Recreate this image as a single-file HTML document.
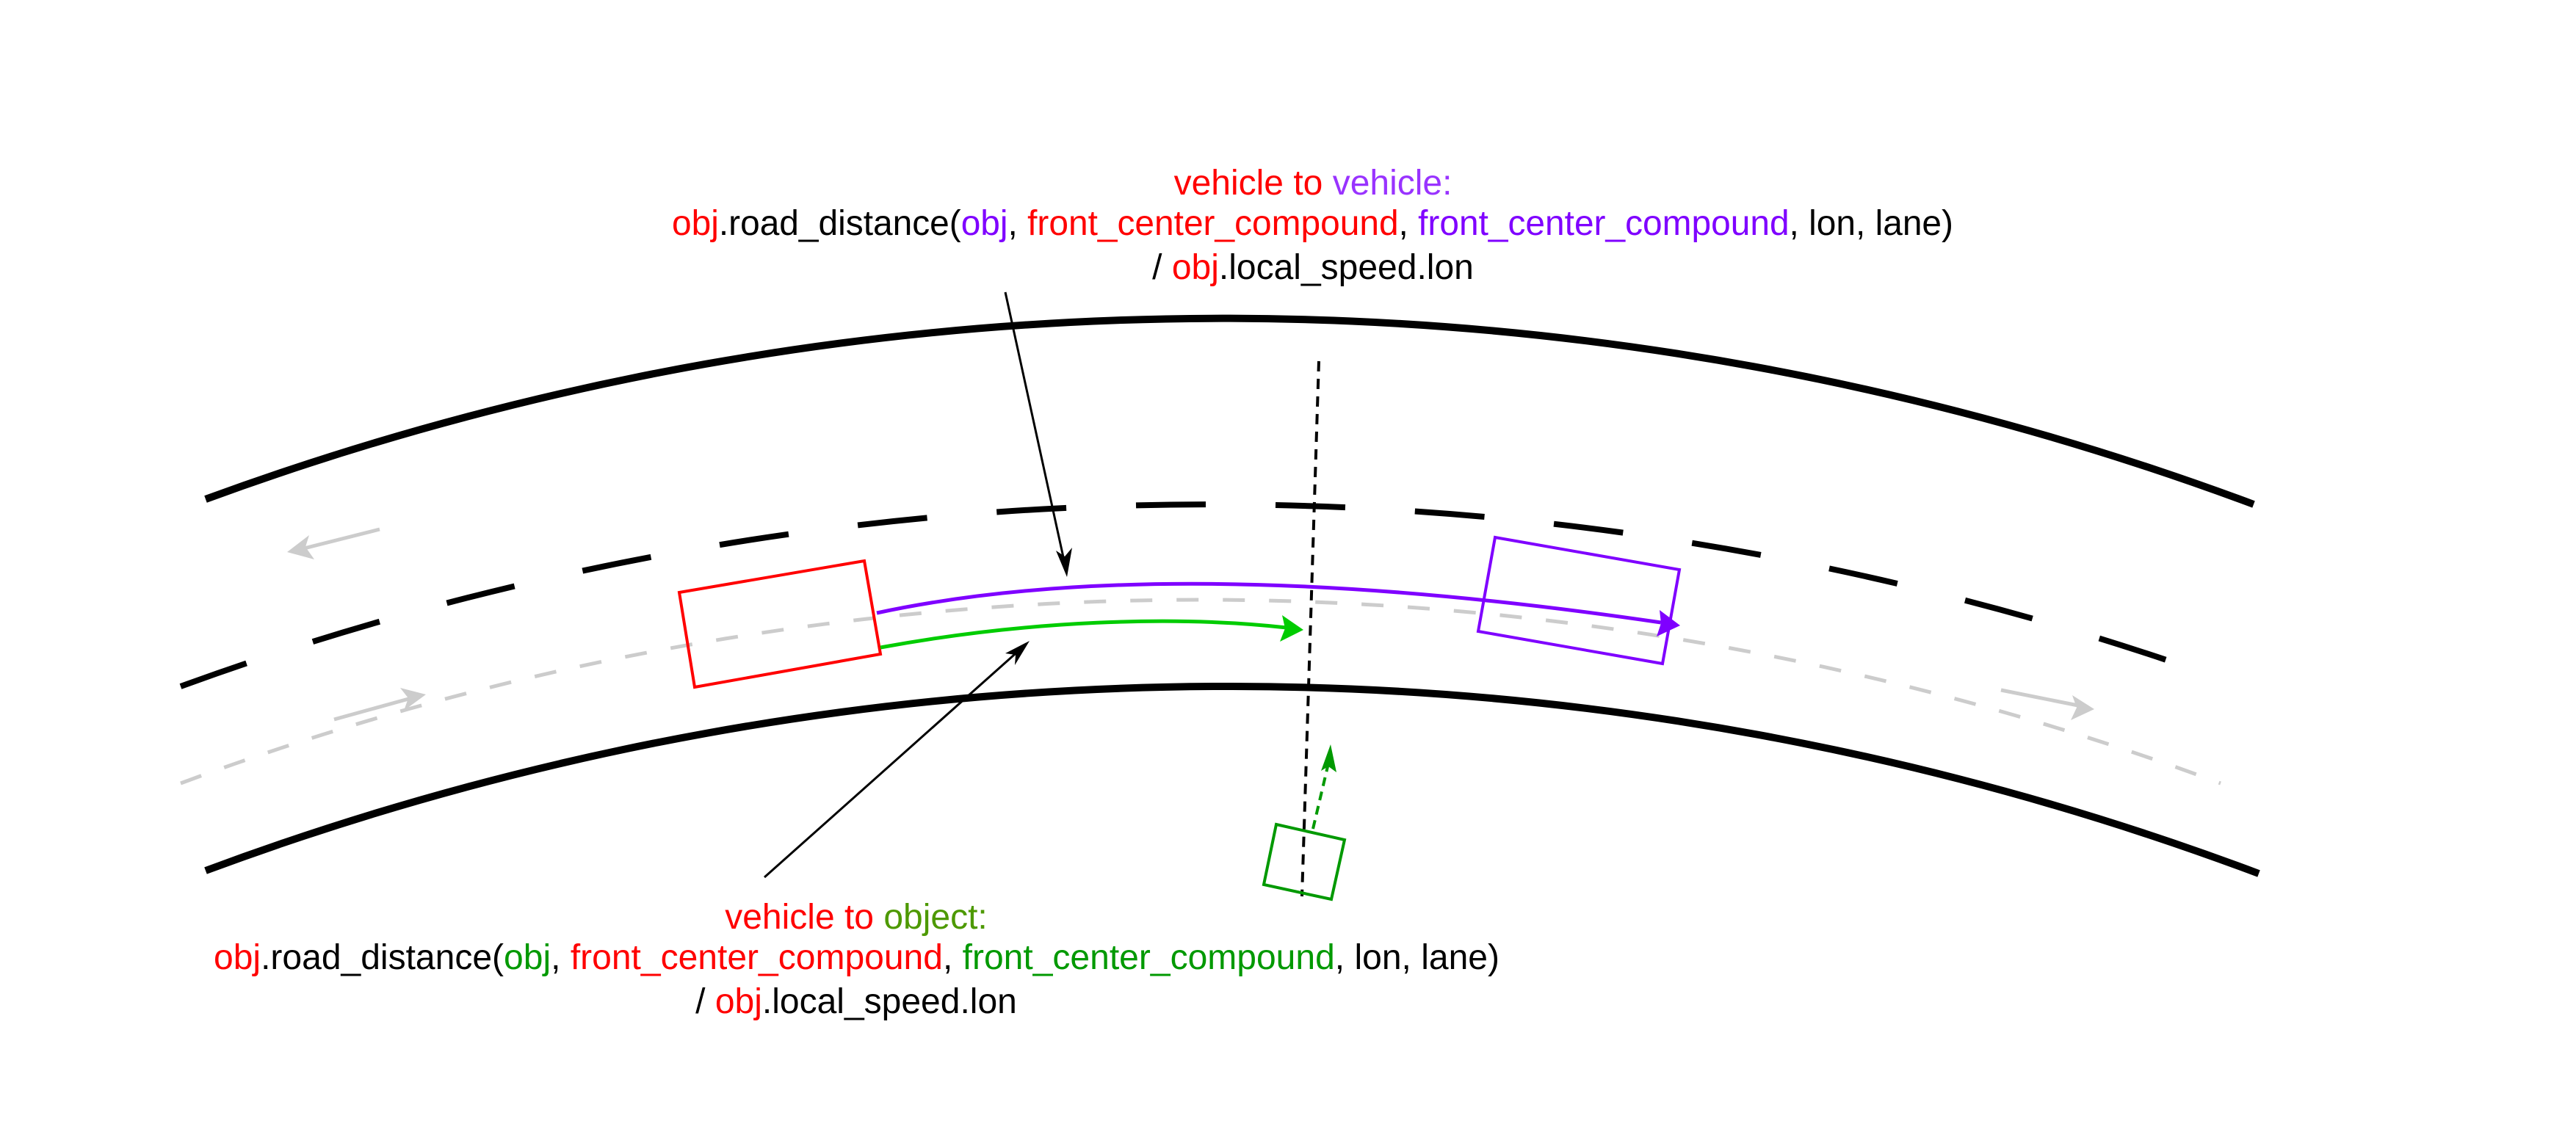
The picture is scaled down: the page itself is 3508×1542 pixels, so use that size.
<!DOCTYPE html>
<html><head><meta charset="utf-8"><style>
html,body{margin:0;padding:0;background:#fff;width:3508px;height:1542px;overflow:hidden}
text{font-family:"Liberation Sans",sans-serif;font-size:48px}
</style></head><body>
<svg width="3508" height="1542" viewBox="0 0 3508 1542" xmlns="http://www.w3.org/2000/svg">
<!-- road boundaries -->
<path d="M280,680 A4017,4017 0 0 1 3069,687" fill="none" stroke="#000" stroke-width="10"/>
<path d="M280,1186 A3989,3989 0 0 1 3076,1190" fill="none" stroke="#000" stroke-width="10"/>
<!-- lane divider -->
<path d="M246,935 A4097,4097 0 0 1 2971,906" fill="none" stroke="#000" stroke-width="8" stroke-dasharray="95 95"/>
<!-- centerline -->
<path d="M246,1067 A3984,3984 0 0 1 3024,1067" fill="none" stroke="#cccccc" stroke-width="5" stroke-dasharray="30 33"/>
<!-- gray arrows -->
<line x1="517" y1="721" x2="410" y2="748" stroke="#cccccc" stroke-width="5"/>
<path d="M391,752 L421,729 L416,745 L428,762 z" fill="#cccccc"/>
<line x1="455" y1="980" x2="560" y2="951" stroke="#cccccc" stroke-width="5"/>
<path d="M580,946 L550,968 L556,951 L545,937 z" fill="#cccccc"/>
<line x1="2725" y1="940" x2="2835" y2="962" stroke="#cccccc" stroke-width="5"/>
<path d="M2852,966 L2820,981 L2828,964 L2822,947 z" fill="#cccccc"/>
<!-- red car -->
<polygon points="925,807 1177,764 1199,891 946,936" fill="none" stroke="#ff0000" stroke-width="4"/>
<!-- purple car -->
<polygon points="2036,732 2287,776 2264,904 2013,860" fill="none" stroke="#7f00ff" stroke-width="4"/>
<!-- purple path -->
<path d="M1194,835 C1450,780 1800,780 2262,848" fill="none" stroke="#7f00ff" stroke-width="5"/>
<path d="M2288,852 L2256,867 L2262,849 L2260,831 z" fill="#7f00ff"/>
<!-- green path -->
<path d="M1199,882 C1400,845 1600,838 1752,855" fill="none" stroke="#00cc00" stroke-width="5"/>
<path d="M1775,858 L1743,874 L1750,856 L1746,838 z" fill="#00cc00"/>
<!-- vertical dashed line -->
<line x1="1796" y1="492" x2="1773" y2="1221" stroke="#000" stroke-width="4" stroke-dasharray="14 10"/>
<!-- green object -->
<polygon points="1738,1123 1831,1144 1813,1225 1721,1205" fill="none" stroke="#009900" stroke-width="4"/>
<line x1="1788" y1="1129" x2="1809" y2="1040" stroke="#009900" stroke-width="4" stroke-dasharray="12 8"/>
<path d="M1812,1014 L1820,1052 L1809,1044 L1799,1050 z" fill="#009900"/>
<!-- callout arrows -->
<line x1="1369" y1="398" x2="1450" y2="768" stroke="#000" stroke-width="3"/>
<path d="M1453,786 L1438,750 L1450,758 L1460,746 z" fill="#000"/>
<line x1="1041" y1="1195" x2="1390" y2="884" stroke="#000" stroke-width="3"/>
<path d="M1402,873 L1382,906 L1383,892 L1369,890 z" fill="#000"/>
<!-- top label -->
<text x="1788" y="265" text-anchor="middle"><tspan fill="#ff0000">vehicle to </tspan><tspan fill="#9933ff">vehicle:</tspan></text>
<text x="915" y="320" textLength="1745" lengthAdjust="spacingAndGlyphs"><tspan fill="#ff0000">obj</tspan><tspan fill="#000">.road_distance(</tspan><tspan fill="#7f00ff">obj</tspan><tspan fill="#000">, </tspan><tspan fill="#ff0000">front_center_compound</tspan><tspan fill="#000">, </tspan><tspan fill="#7f00ff">front_center_compound</tspan><tspan fill="#000">, lon, lane)</tspan></text>
<text x="1788" y="380" text-anchor="middle"><tspan fill="#000">/ </tspan><tspan fill="#ff0000">obj</tspan><tspan fill="#000">.local_speed.lon</tspan></text>
<!-- bottom label -->
<text x="1166" y="1265" text-anchor="middle"><tspan fill="#ff0000">vehicle to </tspan><tspan fill="#4d9900">object:</tspan></text>
<text x="291" y="1320" textLength="1751" lengthAdjust="spacingAndGlyphs"><tspan fill="#ff0000">obj</tspan><tspan fill="#000">.road_distance(</tspan><tspan fill="#009900">obj</tspan><tspan fill="#000">, </tspan><tspan fill="#ff0000">front_center_compound</tspan><tspan fill="#000">, </tspan><tspan fill="#009900">front_center_compound</tspan><tspan fill="#000">, lon, lane)</tspan></text>
<text x="1166" y="1380" text-anchor="middle"><tspan fill="#000">/ </tspan><tspan fill="#ff0000">obj</tspan><tspan fill="#000">.local_speed.lon</tspan></text>
</svg>
</body></html>
